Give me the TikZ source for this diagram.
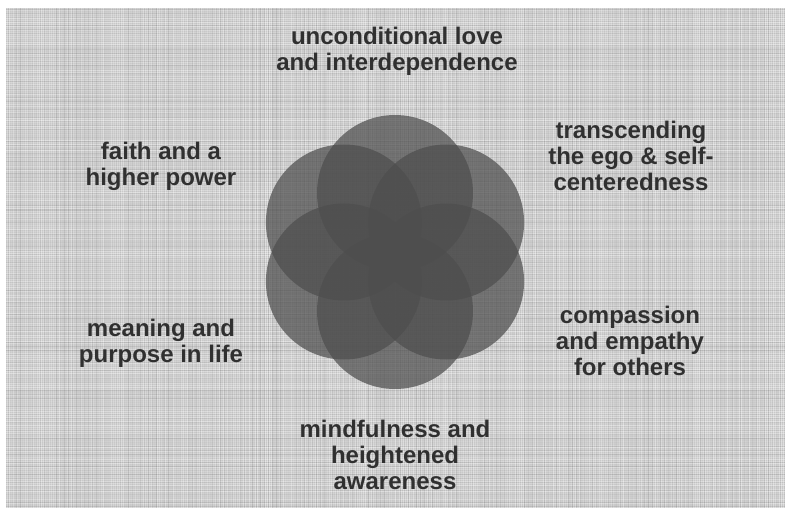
\documentclass[tikz,border=0pt]{standalone}
\usepackage{fontspec}
\setmainfont{Liberation Sans}
\usetikzlibrary{calc}
\definecolor{linen}{HTML}{C9C9C9}
\definecolor{petalgray}{HTML}{4E4E4E}
\definecolor{ink}{HTML}{303030}
\newcommand{\stacklines}[1]{\begin{tabular}[t]{@{}c@{}}#1\end{tabular}}
\tikzset{
  petal/.style={circle, minimum size=156pt, inner sep=0pt, fill=petalgray, fill opacity=0.72},
  caption/.style={anchor=base, inner sep=0pt, text=ink,
    font=\fontsize{24}{26}\selectfont\bfseries},
  thread/.style={line width=1pt},
}
\begin{document}
\begin{tikzpicture}[x=1pt, y=-1pt]
  \useasboundingbox (0,0) rectangle (793,508);
  \fill[white] (0,0) rectangle (793,508);
  % linen background: light and dark threads both ways
  \fill[linen] (6,8) rectangle (785,508);
  \pgfmathsetseed{11}
  \foreach \i in {7,9,...,784} {
    \pgfmathsetmacro\o{rnd*0.4}
    \draw[thread, white, opacity=\o] (\i,8) -- (\i,508);
  }
  \foreach \j in {9,11,...,507} {
    \pgfmathsetmacro\o{rnd*0.4}
    \draw[thread, white, opacity=\o] (6,\j) -- (785,\j);
  }
  \foreach \i in {8,12,...,784} {
    \pgfmathsetmacro\o{rnd*0.09}
    \draw[thread, black, opacity=\o] (\i,8) -- (\i,508);
  }
  \foreach \j in {10,14,...,507} {
    \pgfmathsetmacro\o{rnd*0.09}
    \draw[thread, black, opacity=\o] (6,\j) -- (785,\j);
  }
  % six overlapping circles
  \coordinate (c) at (395,252);
  \foreach \a/\n in {90/1, 30/2, -30/3, -90/4, -150/5, 150/6} {
    \node[petal] (p\n) at ($(c)+(\a:59)$) {};
  }
  % labels
  \node[caption] (love)  at (397,45)  {\stacklines{unconditional love\\and interdependence}};
  \node[caption] (faith) at (161,160) {\stacklines{faith and a\\higher power}};
  \node[caption] (ego)   at (631,139) {\stacklines{transcending\\the ego \& self-\\centeredness}};
  \node[caption] (comp)  at (630,323) {\stacklines{compassion\\and empathy\\for others}};
  \node[caption] (mean)  at (161,336) {\stacklines{meaning and\\purpose in life}};
  \node[caption] (mind)  at (395,437) {\stacklines{mindfulness and\\heightened\\awareness}};
\end{tikzpicture}
\end{document}
